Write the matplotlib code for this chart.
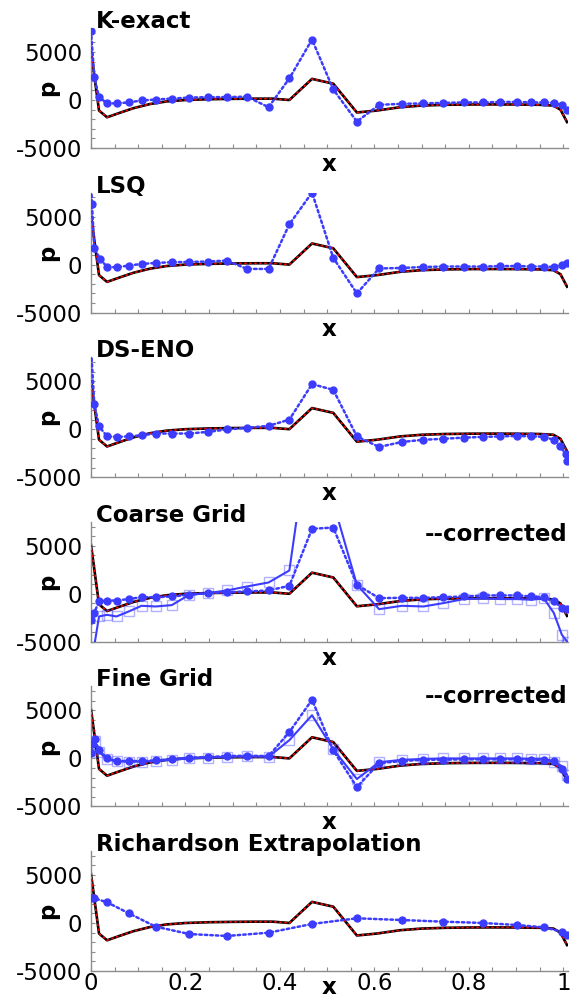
import matplotlib
matplotlib.use("Agg")
import matplotlib.pyplot as plt
from matplotlib.ticker import MultipleLocator, FixedLocator

plt.rcParams['font.family'] = ['DejaVu Sans']

# ---- data -------------------------------------------------------------
panel_titles = ["K-exact", "LSQ", "DS-ENO", "Coarse Grid", "Fine Grid",
                "Richardson Extrapolation"]
xtick_vals = [0, 0.2, 0.4, 0.6, 0.8, 1.0]
xtick_labels = ["0", "0.2", "0.4", "0.6", "0.8", "1"]
ytick_vals = [-5000, 0, 5000]
ytick_labels = ["-5000", "0", "5000"]

# reference (exact) pressure distribution
x_exact = [0, 0.017, 0.034, 0.06, 0.09, 0.125, 0.16, 0.2, 0.25, 0.3, 0.35,
           0.385, 0.42, 0.468, 0.513, 0.563, 0.605, 0.655, 0.70, 0.75, 0.8,
           0.85, 0.9, 0.95, 0.979, 0.994, 1.008]
p_exact = [5100, -1100, -1800, -1350, -850, -420, -150, 0, 80, 120, 140,
           140, 0, 2200, 1700, -1300, -1100, -750, -580, -500, -470, -460,
           -470, -500, -580, -1000, -2300]

x_kexact = [0, 0.007, 0.017, 0.034, 0.054, 0.08, 0.107, 0.137, 0.171, 0.208,
            0.247, 0.288, 0.33, 0.376, 0.42, 0.468, 0.513, 0.563, 0.61,
            0.658, 0.704, 0.746, 0.789, 0.831, 0.867, 0.902, 0.932, 0.959,
            0.98, 0.997, 1.008]
p_kexact = [7200, 2400, 300, -350, -350, -250, -50, 50, 150, 250, 300, 300,
            350, -750, 2250, 6300, 1100, -2250, -500, -400, -350, -300, -250,
            -250, -200, -200, -250, -250, -300, -550, -1000]

x_lsq = [0, 0.002, 0.007, 0.019, 0.034, 0.054, 0.08, 0.107, 0.137, 0.171,
         0.208, 0.247, 0.288, 0.33, 0.376, 0.42, 0.468, 0.513, 0.563, 0.61,
         0.658, 0.704, 0.746, 0.789, 0.831, 0.867, 0.902, 0.932, 0.959,
         0.98, 0.997, 1.008]
p_lsq = [9000, 6300, 1700, 600, -250, -280, -100, 70, 170, 250, 280, 320,
         420, -450, -450, 4200, 7500, 700, -3000, -400, -350, -250, -200,
         -200, -200, -150, -150, -200, -200, -250, 0, 200]

x_dseno = [0, 0.007, 0.017, 0.034, 0.054, 0.08, 0.107, 0.137, 0.171, 0.208,
           0.247, 0.288, 0.33, 0.376, 0.42, 0.468, 0.513, 0.563, 0.61, 0.658,
           0.704, 0.746, 0.789, 0.831, 0.867, 0.902, 0.932, 0.959, 0.98,
           0.993, 1.005, 1.008]
p_dseno = [8500, 2600, 300, -750, -800, -750, -630, -450, -450, -450, -280,
           -30, 140, 350, 1000, 4700, 4100, -750, -1850, -1330, -1100, -1000,
           -880, -800, -750, -700, -750, -800, -1100, -1800, -2550, -3300]

x_coarse = [0, 0.007, 0.017, 0.034, 0.054, 0.08, 0.107, 0.137, 0.171, 0.208,
            0.247, 0.288, 0.33, 0.376, 0.42, 0.468, 0.513, 0.563, 0.61,
            0.658, 0.704, 0.746, 0.789, 0.831, 0.867, 0.902, 0.932, 0.959,
            0.98, 0.997, 1.008]
p_coarse = [-2700, -1950, -800, -700, -700, -550, -350, -350, -280, -100, 70,
            170, 240, 350, 830, 6770, 6900, 940, -450, -420, -420, -350,
            -280, -170, -170, -170, -280, -350, -800, -1430, -1600]

x_coarse_corr = [0, 0.017, 0.034, 0.054, 0.08, 0.107, 0.137, 0.171, 0.208,
                 0.247, 0.288, 0.33, 0.376, 0.42, 0.468, 0.513, 0.563, 0.61,
                 0.658, 0.704, 0.746, 0.789, 0.831, 0.867, 0.902, 0.932,
                 0.959, 0.98, 0.997, 1.008]
p_coarse_corr = [-7500, -2360, -2190, -2360, -1840, -1250, -1320, -1180,
                 -100, 70, 350, 760, 1180, 2430, 19000, 9500, 940, -1600,
                 -1250, -1320, -970, -550, -480, -550, -550, -620, -480,
                 -2000, -4270, -4970]

x_fine = [0, 0.003, 0.008, 0.017, 0.034, 0.054, 0.08, 0.107, 0.137, 0.171,
          0.208, 0.247, 0.288, 0.33, 0.376, 0.42, 0.468, 0.513, 0.563, 0.61,
          0.658, 0.704, 0.746, 0.789, 0.831, 0.867, 0.902, 0.932, 0.959,
          0.98, 0.997, 1.008]
p_fine = [550, 1530, 2050, 830, 0, -280, -280, -280, -210, -70, 70, 140, 240,
          280, 240, 2740, 6110, 830, -2990, -490, -280, -140, -140, -100,
          -100, -100, -100, -140, -140, -280, -1070, -2120]

x_fine_corr = [0, 0.008, 0.017, 0.034, 0.054, 0.08, 0.107, 0.137, 0.171,
               0.208, 0.247, 0.288, 0.33, 0.376, 0.42, 0.468, 0.513, 0.563,
               0.61, 0.658, 0.704, 0.746, 0.789, 0.831, 0.867, 0.902, 0.932,
               0.959, 0.98, 0.997, 1.008]
p_fine_corr = [900, 1800, 700, -100, -300, -330, -330, -280, -150, 0, 70,
               170, 200, 170, 1900, 4500, 950, -2150, -400, -150, -50, 0, 0,
               0, 0, 0, -30, -30, -350, -800, -1700]

x_rich = [0, 0.007, 0.034, 0.08, 0.137, 0.208, 0.288, 0.376, 0.468, 0.563,
          0.658, 0.746, 0.831, 0.902, 0.959, 0.997, 1.008]
p_rich = [2570, 2570, 2160, 1010, -380, -1150, -1350, -1010, -100, 490, 310,
          140, 0, -210, -450, -900, -1250]

dotted_series = [(x_kexact, p_kexact), (x_lsq, p_lsq), (x_dseno, p_dseno),
                 (x_coarse, p_coarse), (x_fine, p_fine), (x_rich, p_rich)]
corrected_series = {3: (x_coarse_corr, p_coarse_corr),
                    4: (x_fine_corr, p_fine_corr)}
corrected_label = "--corrected"

# ---- styling ----------------------------------------------------------
BLUE = "#3c3cff"
SPINE = "#8c8c8c"
FS = 16.5

W, H = 576, 999
fig = plt.figure(figsize=(W / 100, H / 100), dpi=100)

left_px, width_px, height_px = 91, 477, 120
bottoms_px = [148 + i * 164.6 for i in range(6)]

for i, title in enumerate(panel_titles):
    b = bottoms_px[i]
    ax = fig.add_axes([left_px / W, 1 - b / H, width_px / W, height_px / H])

    # exact solution: black line with red dashes over it
    ax.plot(x_exact, p_exact, color="black", lw=1.9, zorder=2)
    ax.plot(x_exact, p_exact, color="red", lw=1.2, dashes=(1.5, 1.5), zorder=3)

    # corrected solution (solid line + hollow squares)
    if i in corrected_series:
        xc, pc = corrected_series[i]
        ax.plot(xc, pc, color=BLUE, lw=1.5, zorder=4)
        ax.plot(xc, pc, linestyle="none", marker="s", ms=7.5, mfc="none",
                mec=BLUE, mew=1.0, alpha=0.4, zorder=4)
        ax.text(0.998, 0.84 if i == 3 else 0.86, corrected_label,
                transform=ax.transAxes, ha="right", va="baseline",
                fontsize=FS, fontweight="bold")

    # scheme result: dotted line with filled dots
    xs, ps = dotted_series[i]
    ax.plot(xs, ps, color=BLUE, lw=1.8, linestyle=(0, (1, 1.2)),
            dash_capstyle="round", marker="o", ms=5, mec=BLUE, mfc=BLUE,
            zorder=5)

    ax.set_xlim(0, 1.01)
    ax.set_ylim(-5000, 7500)

    for side in ("top", "right"):
        ax.spines[side].set_visible(False)
    for side in ("left", "bottom"):
        ax.spines[side].set_color(SPINE)
        ax.spines[side].set_linewidth(1.0)

    ax.xaxis.set_major_locator(FixedLocator(xtick_vals))
    ax.xaxis.set_minor_locator(MultipleLocator(0.05))
    ax.yaxis.set_major_locator(FixedLocator(ytick_vals))
    ax.yaxis.set_minor_locator(MultipleLocator(1000))
    ax.set_yticklabels(ytick_labels)
    ax.tick_params(which="both", direction="in", color=SPINE, length=3,
                   width=0.8, labelsize=FS)
    ax.tick_params(axis="y", which="major", pad=6.5)
    if i == len(panel_titles) - 1:
        ax.set_xticklabels(xtick_labels)
        ax.tick_params(axis="x", which="major", pad=1)
    else:
        ax.set_xticklabels([])

    ax.text(0.01, 1.0, title, transform=ax.transAxes, ha="left",
            va="baseline", fontsize=FS, fontweight="bold")
    ax.text(-0.091, 0.5, "p", transform=ax.transAxes, rotation=90,
            ha="center", va="center", fontsize=FS, fontweight="bold")
    ax.annotate("x", xy=(0.5, 0), xycoords="axes fraction",
                xytext=(0, -23 * 72 / 100), textcoords="offset points",
                ha="center", va="baseline", fontsize=FS, fontweight="bold")

fig.savefig("out.png", dpi=100)
